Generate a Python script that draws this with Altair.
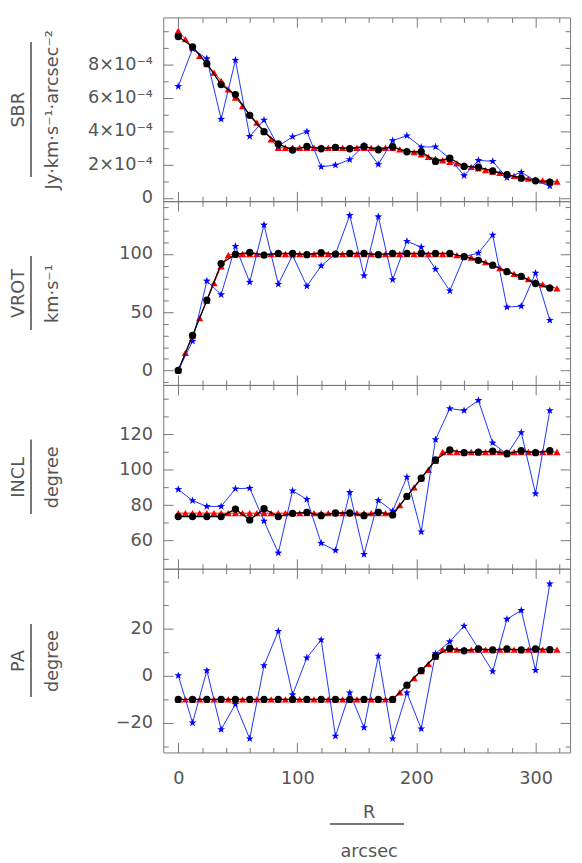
import altair as alt
import pandas as pd

# ---------------- data ----------------
R_FIT = [0, 12, 24, 36, 48, 60, 72, 84, 96, 108, 120, 132, 144, 156, 168, 180,
         192, 204, 216, 228, 240, 252, 264, 276, 288, 300, 312]
R_MODEL = [0, 6, 12, 18, 24, 30, 36, 42, 48, 54, 60, 66, 72, 78, 84, 90, 96, 102,
           108, 114, 120, 126, 132, 138, 144, 150, 156, 162, 168, 174, 180, 186,
           192, 198, 204, 210, 216, 222, 228, 234, 240, 246, 252, 258, 264, 270,
           276, 282, 288, 294, 300, 306, 312, 318]

SBR_BLACK = [9.66e-4, 9.04e-4, 8.04e-4, 6.78e-4, 6.18e-4, 4.94e-4, 3.96e-4, 3.23e-4,
             2.86e-4, 3.08e-4, 2.94e-4, 3.02e-4, 2.94e-4, 3.08e-4, 2.88e-4, 3.06e-4,
             2.76e-4, 2.76e-4, 2.18e-4, 2.37e-4, 1.88e-4, 1.84e-4, 1.61e-4, 1.39e-4,
             1.18e-4, 1.02e-4, 0.94e-4]
SBR_RED = [10.0e-4, 9.5e-4, 9.0e-4, 8.5e-4, 8.0e-4, 7.5e-4, 7.0e-4, 6.5e-4, 6.0e-4,
           5.5e-4, 5.0e-4, 4.5e-4, 4.0e-4, 3.5e-4, 3.0e-4, 3.0e-4, 3.0e-4, 3.0e-4,
           3.0e-4, 3.0e-4, 3.0e-4, 3.0e-4, 3.0e-4, 3.0e-4, 3.0e-4, 3.0e-4, 3.0e-4,
           3.0e-4, 3.0e-4, 3.0e-4, 3.0e-4, 2.9e-4, 2.82e-4, 2.74e-4, 2.6e-4, 2.45e-4,
           2.35e-4, 2.25e-4, 2.15e-4, 2.06e-4, 1.96e-4, 1.86e-4, 1.76e-4, 1.66e-4,
           1.57e-4, 1.49e-4, 1.40e-4, 1.31e-4, 1.23e-4, 1.15e-4, 1.09e-4, 1.04e-4,
           1.0e-4, 0.98e-4]
SBR_BLUE = [6.67e-4, 8.92e-4, 8.33e-4, 4.71e-4, 8.24e-4, 3.68e-4, 4.66e-4, 3.09e-4,
            3.66e-4, 3.96e-4, 1.86e-4, 1.96e-4, 2.29e-4, 3.14e-4, 2.0e-4, 3.43e-4,
            3.72e-4, 3.04e-4, 3.06e-4, 2.35e-4, 1.33e-4, 2.24e-4, 2.19e-4, 1.21e-4,
            1.53e-4, 1.02e-4, 0.71e-4]

VROT_BLACK = [0, 30.1, 60.3, 91.8, 99.7, 101.4, 99.1, 100.5, 100.5, 99.4, 101.1, 100.0,
              100.5, 100.5, 99.4, 100.5, 100.5, 100.5, 100.5, 100.5, 97.7, 94.6, 90.4,
              84.8, 80.8, 74.6, 70.7]
VROT_RED = [0, 15, 30, 45, 60, 75, 89.5, 99, 100, 100, 100, 100, 100, 100, 100, 100,
            100, 100, 100, 100, 100, 100, 100, 100, 100, 100, 100, 100, 100, 100, 100,
            100, 100, 100, 100, 100, 100, 100, 100, 99, 98, 97, 95, 93, 90.5, 88, 85.5,
            83, 80.5, 78.5, 76, 74, 72, 70.5]
VROT_BLUE = [0, 25.1, 76.9, 65.1, 106.7, 75.8, 125.0, 74.1, 98.9, 72.4, 89.9, 100.0,
             133.2, 81.4, 132.1, 78.0, 111.0, 105.9, 87.0, 68.4, 97.7, 100.8, 116.3,
             54.4, 55.2, 83.6, 43.1]

INCL_BLACK = [73.6, 73.6, 73.6, 73.6, 77.8, 71.7, 78.0, 73.6, 75.4, 76.0, 74.1, 75.6,
              75.6, 74.1, 76.1, 74.5, 85.0, 95.2, 105.5, 111.2, 109.6, 109.9, 110.5,
              109.0, 110.7, 109.6, 110.7]
INCL_RED = [75.5, 75.5, 75.5, 75.5, 75.5, 75.5, 75.5, 75.5, 75.5, 75.5, 75.5, 75.5,
            75.5, 75.5, 75.5, 75.5, 75.5, 75.5, 75.5, 75.5, 75.5, 75.5, 75.5, 75.5,
            75.5, 75.5, 75.5, 75.5, 75.5, 75.5, 75.5, 80, 85, 90, 95, 100, 105, 110,
            110, 110, 110, 110, 110, 110, 110, 110, 110, 110, 110, 110, 110, 110, 110, 110]
INCL_BLUE = [88.9, 82.6, 79.3, 79.3, 89.3, 89.6, 71.1, 53.1, 88.1, 83.3, 58.6, 54.5,
             87.2, 52.3, 82.8, 76.7, 95.9, 65.0, 117.0, 134.5, 133.4, 139.1, 115.1,
             108.6, 121.0, 86.5, 133.4]

PA_BLACK = [-10, -10, -10, -10, -10, -10, -10, -10, -10, -10, -10, -10, -10, -10, -10,
            -10, -4.0, 2.2, 8.3, 11.6, 10.5, 11.3, 10.9, 11.3, 10.9, 11.3, 11.0]
PA_RED = [-10, -10, -10, -10, -10, -10, -10, -10, -10, -10, -10, -10, -10, -10, -10,
          -10, -10, -10, -10, -10, -10, -10, -10, -10, -10, -10, -10, -10, -10, -10,
          -10, -7, -4, -1, 2, 5, 8, 11, 11, 11, 11, 11, 11, 11, 11, 11, 11, 11, 11, 11,
          11, 11, 11, 11]
PA_BLUE = [0.1, -19.9, 2.2, -22.7, -12.0, -26.6, 4.3, 18.8, -8.0, 7.6, 15.2, -25.5,
           -7.2, -21.9, 8.3, -26.6, -7.2, -22.4, 9.4, 14.4, 21.0, 11.5, 1.8, 23.9,
           27.6, 2.3, 38.8]

X_MAJOR = [0, 100, 200, 300]
X_MINOR = [0, 20, 40, 60, 80, 120, 140, 160, 180, 220, 240, 260, 280, 320]

SBR_MAJOR = [0, 2e-4, 4e-4, 6e-4, 8e-4]
SBR_MINOR = [1e-4, 3e-4, 5e-4, 7e-4, 9e-4, 10e-4]
VROT_MAJOR = [0, 50, 100]
VROT_MINOR = [-10, 10, 20, 30, 40, 60, 70, 80, 90, 110, 120, 130, 140]
INCL_MAJOR = [60, 80, 100, 120]
INCL_MINOR = [50, 70, 90, 110, 130, 140]
PA_MAJOR = [-20, 0, 20]
PA_MINOR = [-30, -10, 10, 30, 40]

X_TITLE = ["R", "arcsec"]
SBR_TITLE = ["SBR", "Jy\u00b7km\u00b7s\u207b\u00b9\u00b7arcsec\u207b\u00b2"]
VROT_TITLE = ["VROT", "km\u00b7s\u207b\u00b9"]
INCL_TITLE = ["INCL", "degree"]
PA_TITLE = ["PA", "degree"]

# ---------------- styling ----------------
FONT = "DejaVu Sans"
TXT = "#555555"
EDGE = "#777777"
W, H = 414, 187
X_DOMAIN = [-12.6, 329]
MAJ, MIN = 10, 5
STAR = ("M0,-1L0.235,-0.324L0.951,-0.309L0.38,0.124L0.588,0.809L0,0.4"
        "L-0.588,0.809L-0.38,0.124L-0.951,-0.309L-0.235,-0.324Z")


def tick_axis(orient, values, size, labels=False, label_expr=None):
    kw = dict(orient=orient, values=values, tickSize=size, offset=-size,
              domain=False, grid=False, labels=labels, title=None,
              tickColor=EDGE, tickWidth=1)
    if labels:
        kw.update(labelFont=FONT, labelFontSize=18, labelColor=TXT,
                  labelPadding=11 if orient in ("left", "right") else 18,
                  labelFlush=False, labelOverlap=False)
        if label_expr:
            kw["labelExpr"] = label_expr
    return alt.Axis(**kw)


def panel(black, red, blue, ydom, ymaj, ymin, ytitle, rule_len, label_expr=None,
          bottom=False):
    xs = alt.Scale(domain=X_DOMAIN, nice=False, zero=False)
    ys = alt.Scale(domain=ydom, nice=False, zero=False)
    dfb = pd.DataFrame({"R": R_FIT, "v": black})
    dfr = pd.DataFrame({"R": R_MODEL, "v": red})
    dfu = pd.DataFrame({"R": R_FIT, "v": blue})

    def enc(c, xa, ya):
        return c.encode(x=alt.X("R:Q", scale=xs, axis=xa),
                        y=alt.Y("v:Q", scale=ys, axis=ya))

    layers = []
    # red model
    layers.append(enc(alt.Chart(dfr).mark_line(color="#ff0000", strokeWidth=1),
                      tick_axis("bottom", X_MAJOR, MAJ, labels=bottom),
                      tick_axis("left", ymaj, MAJ, labels=True, label_expr=label_expr)))
    layers.append(enc(alt.Chart(dfr).mark_point(shape="triangle-up", filled=True,
                                                color="#ff0000", size=55, opacity=1),
                      None, None))
    # blue
    layers.append(enc(alt.Chart(dfu).mark_line(color="#1a33ff", strokeWidth=1), None, None))
    layers.append(enc(alt.Chart(dfu).mark_point(shape=STAR, filled=True, color="#0000ff",
                                                size=70, opacity=1), None, None))
    # black
    layers.append(enc(alt.Chart(dfb).mark_line(color="#000000", strokeWidth=1.3), None, None))
    layers.append(enc(alt.Chart(dfb).mark_point(shape="circle", filled=True,
                                                color="#000000", size=55, opacity=1),
                      None, None))

    def ghost(xa, ya):
        return enc(alt.Chart(dfb).mark_point(opacity=0), xa, ya)

    layers.append(ghost(tick_axis("bottom", X_MINOR, MIN), None))
    layers.append(ghost(tick_axis("top", X_MAJOR, MAJ), None))
    layers.append(ghost(tick_axis("top", X_MINOR, MIN), None))
    layers.append(ghost(None, tick_axis("left", ymin, MIN)))
    layers.append(ghost(None, tick_axis("right", ymaj, MAJ)))
    layers.append(ghost(None, tick_axis("right", ymin, MIN)))
    # y title (name above the fraction bar, unit below)
    layers.append(ghost(None, alt.Axis(
        orient="left", title=ytitle, ticks=False, labels=False, domain=False,
        grid=False, titleX=-156.7, titleY=H / 2, titleAngle=270,
        titleBaseline="top", titleAlign="center", titleFont=FONT,
        titleFontSize=18, titleFontWeight="normal", titleColor=TXT,
        titleLineHeight=35)))
    # fraction bar of the y title
    layers.append(alt.Chart(dfb).mark_rule(color=EDGE, strokeWidth=1).encode(
        x=alt.value(-134.7), y=alt.value(H / 2 - rule_len / 2),
        y2=alt.value(H / 2 + rule_len / 2)))
    if bottom:
        layers.append(ghost(alt.Axis(
            orient="bottom", title=X_TITLE, ticks=False, labels=False, domain=False,
            grid=False, titleX=209, titleY=52, titleAngle=0,
            titleBaseline="top", titleAlign="center", titleFont=FONT,
            titleFontSize=18, titleFontWeight="normal", titleColor=TXT,
            titleLineHeight=40), None))
        layers.append(alt.Chart(dfb).mark_rule(color=EDGE, strokeWidth=1).encode(
            x=alt.value(170), x2=alt.value(245), y=alt.value(H + 73)))

    return alt.layer(*layers).resolve_axis(x="independent", y="independent").properties(
        width=W, height=H)


SBR_EXPR = "datum.value == 0 ? '0' : round(datum.value * 10000) + '\u00d710\u207b\u2074'"

p1 = panel(SBR_BLACK, SBR_RED, SBR_BLUE, [-0.2e-4, 10.8e-4], SBR_MAJOR, SBR_MINOR,
           SBR_TITLE, 137, label_expr=SBR_EXPR)
p2 = panel(VROT_BLACK, VROT_RED, VROT_BLUE, [-12.5, 145.4], VROT_MAJOR, VROT_MINOR,
           VROT_TITLE, 74)
p3 = panel(INCL_BLACK, INCL_RED, INCL_BLUE, [44.2, 147.8], INCL_MAJOR, INCL_MINOR,
           INCL_TITLE, 75)
p4 = panel(PA_BLACK, PA_RED, PA_BLUE, [-32.4, 45.2], PA_MAJOR, PA_MINOR, PA_TITLE, 74,
           bottom=True)

chart = alt.vconcat(p1, p2, p3, p4, spacing=0, bounds="flush").properties(
    padding={"left": 0, "top": 1, "right": 3, "bottom": 0}
).configure_view(stroke=EDGE, strokeWidth=1)

chart.save("out.html", embed_options={"renderer": "svg", "actions": False})
